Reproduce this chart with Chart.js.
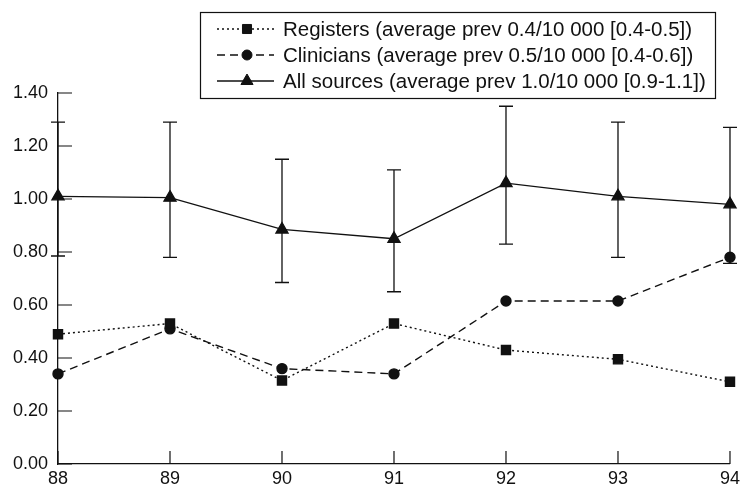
<!DOCTYPE html>
<html>
<head>
<meta charset="utf-8">
<script src="https://cdn.jsdelivr.net/npm/chart.js@4/dist/chart.umd.min.js"></script>
<style>
  html, body { margin: 0; padding: 0; background: #fff; }
  #wrap { width: 744px; height: 487px; }
</style>
</head>
<body>
<div id="wrap"><canvas id="chart"></canvas></div>
<script>
// Years on the x axis (19xx)
const years = [88, 89, 90, 91, 92, 93, 94];

// Prevalence per 10 000
const registers = [0.49, 0.53, 0.315, 0.53, 0.43, 0.395, 0.31];
const clinicians = [0.34, 0.51, 0.36, 0.34, 0.615, 0.615, 0.78];
const allSources = [1.01, 1.005, 0.885, 0.85, 1.06, 1.01, 0.98];

// 95% interval for all sources
const allLower = [0.785, 0.78, 0.685, 0.65, 0.83, 0.78, 0.757];
const allUpper = [1.29, 1.29, 1.15, 1.11, 1.35, 1.29, 1.27];

const yTicks = [0, 0.2, 0.4, 0.6, 0.8, 1.0, 1.2, 1.4];

const labels = [
  'Registers (average prev 0.4/10 000 [0.4-0.5])',
  'Clinicians (average prev 0.5/10 000 [0.4-0.6])',
  'All sources (average prev 1.0/10 000 [0.9-1.1])'
];

const FONT = 'Liberation Sans, Arial, sans-serif';
const INK = '#111';

function toPoints(vals) {
  return years.map((x, i) => ({ x: x, y: vals[i] }));
}

// Error bars for the "All sources" series
const errorBars = {
  id: 'errorBars',
  afterDatasetsDraw(chart) {
    const { ctx, scales: { x, y } } = chart;
    ctx.save();
    ctx.strokeStyle = INK;
    ctx.lineWidth = 1.3;
    years.forEach((yr, i) => {
      const px = x.getPixelForValue(yr);
      const lo = y.getPixelForValue(allLower[i]);
      const hi = y.getPixelForValue(allUpper[i]);
      ctx.beginPath();
      ctx.moveTo(px, lo); ctx.lineTo(px, hi);
      ctx.moveTo(px - 7, lo); ctx.lineTo(px + 7, lo);
      ctx.moveTo(px - 7, hi); ctx.lineTo(px + 7, hi);
      ctx.stroke();
    });
    ctx.restore();
  }
};

// Inward tick marks on both axes
const innerTicks = {
  id: 'innerTicks',
  afterDraw(chart) {
    const { ctx, chartArea, scales: { x, y } } = chart;
    ctx.save();
    ctx.strokeStyle = INK;
    ctx.lineWidth = 1.2;
    ctx.beginPath();
    yTicks.forEach(v => {
      const py = y.getPixelForValue(v);
      ctx.moveTo(chartArea.left, py);
      ctx.lineTo(chartArea.left + 14, py);
    });
    years.forEach(v => {
      const px = x.getPixelForValue(v);
      ctx.moveTo(px, chartArea.bottom);
      ctx.lineTo(px, chartArea.bottom - 13);
    });
    ctx.stroke();
    ctx.restore();
  }
};

// Boxed legend in the top right
const boxLegend = {
  id: 'boxLegend',
  afterDraw(chart) {
    const ctx = chart.ctx;
    const left = 200, top = 12, right = 715, bottom = 98;
    ctx.save();
    ctx.fillStyle = '#fff';
    ctx.fillRect(left, top, right - left, bottom - top);
    ctx.strokeStyle = INK;
    ctx.lineWidth = 1.2;
    ctx.strokeRect(left + 0.5, top + 0.5, right - left, bottom - top);
    const rows = [29, 55, 81];
    chart.data.datasets.forEach((ds, i) => {
      const cy = rows[i];
      ctx.save();
      ctx.strokeStyle = ds.borderColor;
      ctx.lineWidth = ds.borderWidth;
      ctx.setLineDash(ds.borderDash || []);
      ctx.beginPath();
      ctx.moveTo(217, cy);
      ctx.lineTo(274, cy);
      ctx.stroke();
      ctx.restore();
      ctx.fillStyle = INK;
      ctx.strokeStyle = INK;
      ctx.lineWidth = 1;
      Chart.helpers.drawPoint(ctx, {
        pointStyle: ds.pointStyle,
        radius: ds.pointRadius,
        rotation: 0,
        borderWidth: 1
      }, 247, cy);
      ctx.fillStyle = INK;
      ctx.font = '20.5px ' + FONT;
      ctx.textBaseline = 'middle';
      ctx.textAlign = 'left';
      ctx.fillText(ds.label, 283, cy + 1);
    });
    ctx.restore();
  }
};

const ctx = document.getElementById('chart').getContext('2d');
new Chart(ctx, {
  type: 'line',
  data: {
    datasets: [
      {
        label: labels[0],
        data: toPoints(registers),
        borderColor: INK,
        backgroundColor: INK,
        borderWidth: 1.4,
        borderDash: [2, 3],
        pointStyle: 'rect',
        pointRadius: 6.4,
        clip: false
      },
      {
        label: labels[1],
        data: toPoints(clinicians),
        borderColor: INK,
        backgroundColor: INK,
        borderWidth: 1.4,
        borderDash: [8, 5],
        pointStyle: 'circle',
        pointRadius: 5,
        clip: false
      },
      {
        label: labels[2],
        data: toPoints(allSources),
        borderColor: INK,
        backgroundColor: INK,
        borderWidth: 1.3,
        pointStyle: 'triangle',
        pointRadius: 7,
        clip: false
      }
    ]
  },
  options: {
    responsive: true,
    maintainAspectRatio: false,
    animation: false,
    layout: { padding: { top: 93, right: 10, left: 0, bottom: 0 } },
    plugins: {
      legend: { display: false },
      tooltip: { enabled: false }
    },
    scales: {
      x: {
        type: 'linear',
        min: 88,
        max: 94,
        afterBuildTicks(scale) { scale.ticks = years.map(v => ({ value: v })); },
        afterFit(scale) { scale.height = 23; },
        grid: { display: false, drawTicks: false },
        border: { display: true, color: INK, width: 1.3 },
        ticks: {
          color: INK,
          padding: 4,
          maxRotation: 0,
          font: { family: FONT, size: 18 },
          callback: v => String(v)
        }
      },
      y: {
        min: 0,
        max: 1.4,
        afterBuildTicks(scale) { scale.ticks = yTicks.map(v => ({ value: v })); },
        afterFit(scale) { scale.width = 58; },
        grid: { display: false, drawTicks: false },
        border: { display: true, color: INK, width: 1.3 },
        ticks: {
          color: INK,
          padding: 10,
          font: { family: FONT, size: 18 },
          callback: v => v.toFixed(2)
        }
      }
    }
  },
  plugins: [errorBars, innerTicks, boxLegend]
});
</script>
</body>
</html>
